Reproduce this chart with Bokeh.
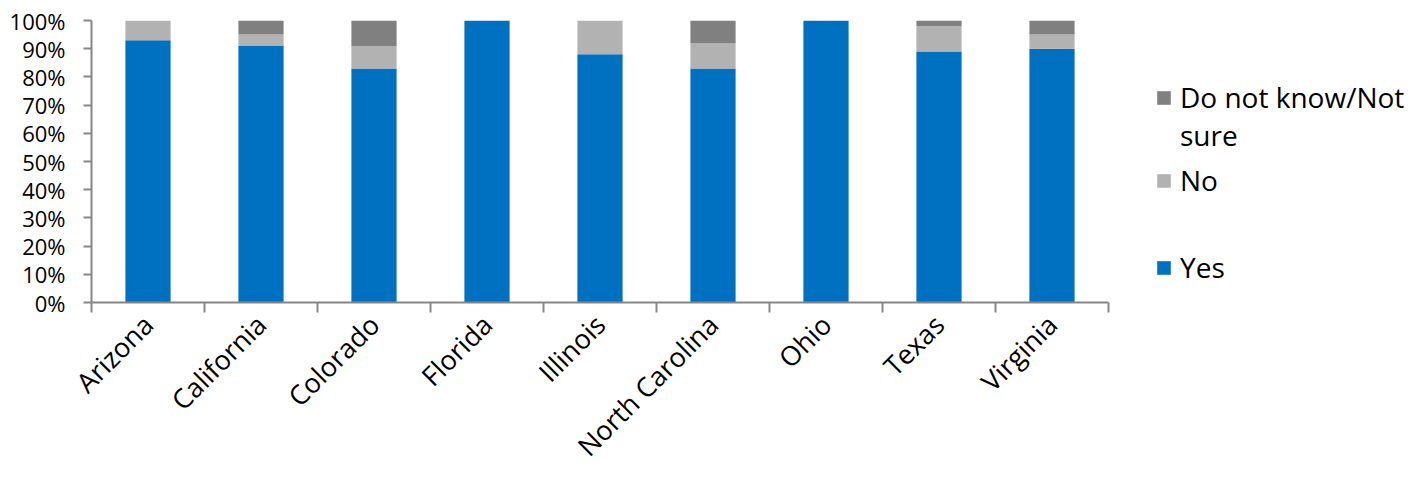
from bokeh.plotting import figure
from bokeh.models import (Range1d, LinearAxis, FixedTicker, ColumnDataSource,
                          PrintfTickFormatter, Legend, LegendItem)
from bokeh.embed import file_html
from bokeh.resources import INLINE
import math

states = ["Arizona", "California", "Colorado", "Florida", "Illinois",
          "North Carolina", "Ohio", "Texas", "Virginia"]
yes = [93, 91, 83, 100, 88, 83, 100, 89, 90]
no = [7, 4, 8, 0, 12, 9, 0, 9, 5]
dont_know = [0, 5, 9, 0, 0, 8, 0, 2, 5]
series = ["yes", "no", "dont_know"]
labels = ["Yes", "No", " \nDo not know/Not\nsure"]
colors = ["#0070C0", "#B2B2B2", "#808080"]
y_ticks = [0, 10, 20, 30, 40, 50, 60, 70, 80, 90, 100]

FONT = "Open Sans"
AXIS_COLOR = "#868686"

W, H = 1410, 479
LEFT, TOP, BOTTOM = 91, 20, 175
AXIS_END = 1108  # where the category axis stops, in pixels

n = len(states)
centers = [i + 0.5 for i in range(n)]
edges = list(range(n + 1))
x_end = n * (W - LEFT) / (AXIS_END - LEFT)  # room on the right for the legend

p = figure(width=W, height=H, output_backend="svg", toolbar_location=None,
           x_range=Range1d(0, x_end), y_range=Range1d(0, 100),
           x_axis_location=None, y_axis_location=None,
           min_border_left=LEFT, min_border_right=0, min_border_top=TOP, min_border_bottom=BOTTOM)
p.outline_line_color = None
p.xgrid.grid_line_color = None
p.ygrid.grid_line_color = None

src = ColumnDataSource(dict(x=centers, states=states, yes=yes, no=no, dont_know=dont_know))
rs = p.vbar_stack(series, x="x", width=0.4, color=colors, line_color=None, source=src)

# y axis
yax = LinearAxis(ticker=FixedTicker(ticks=y_ticks), formatter=PrintfTickFormatter(format="%d%%"))
yax.axis_line_color = AXIS_COLOR
yax.axis_line_width = 2
yax.major_tick_line_color = AXIS_COLOR
yax.major_tick_line_width = 2
yax.major_tick_in = 0
yax.major_tick_out = 8
yax.minor_tick_line_color = None
yax.major_label_text_font = FONT
yax.major_label_text_font_size = "22px"
yax.major_label_text_color = "#000000"
yax.major_label_standoff = 18
p.add_layout(yax, "left")

# x axis: labels at category centres, tick marks at category edges
xax = LinearAxis(ticker=FixedTicker(ticks=centers, minor_ticks=edges),
                 major_label_overrides={c: s for c, s in zip(centers, states)},
                 bounds=(0, n))
xax.axis_line_color = AXIS_COLOR
xax.axis_line_width = 2
xax.major_tick_line_color = None
xax.minor_tick_line_color = AXIS_COLOR
xax.minor_tick_line_width = 2
xax.minor_tick_in = 0
xax.minor_tick_out = 10
xax.major_tick_in = 0
xax.major_tick_out = 0
xax.major_label_orientation = math.pi / 4
xax.major_label_text_font = FONT
xax.major_label_text_font_size = "27px"
xax.major_label_text_color = "#000000"
xax.major_label_standoff = 7
p.add_layout(xax, "below")

# legend: one box per entry so the entries are evenly spaced as in the original
positions = [(1064, 16), (1064, 103), (1064, 148)]
for r, lab, pos in zip(rs, labels, positions):
    lg = Legend(items=[LegendItem(label=lab, renderers=[r])], location=pos)
    lg.label_text_font = FONT
    lg.label_text_font_size = "28px"
    lg.label_text_color = "#000000"
    lg.glyph_width = 17
    lg.glyph_height = 17
    lg.label_standoff = 8
    lg.padding = 0
    lg.margin = 0
    lg.spacing = 0
    lg.border_line_color = None
    lg.background_fill_alpha = 0
    p.add_layout(lg, "center")

open("out.html", "w").write(file_html(p, INLINE))
